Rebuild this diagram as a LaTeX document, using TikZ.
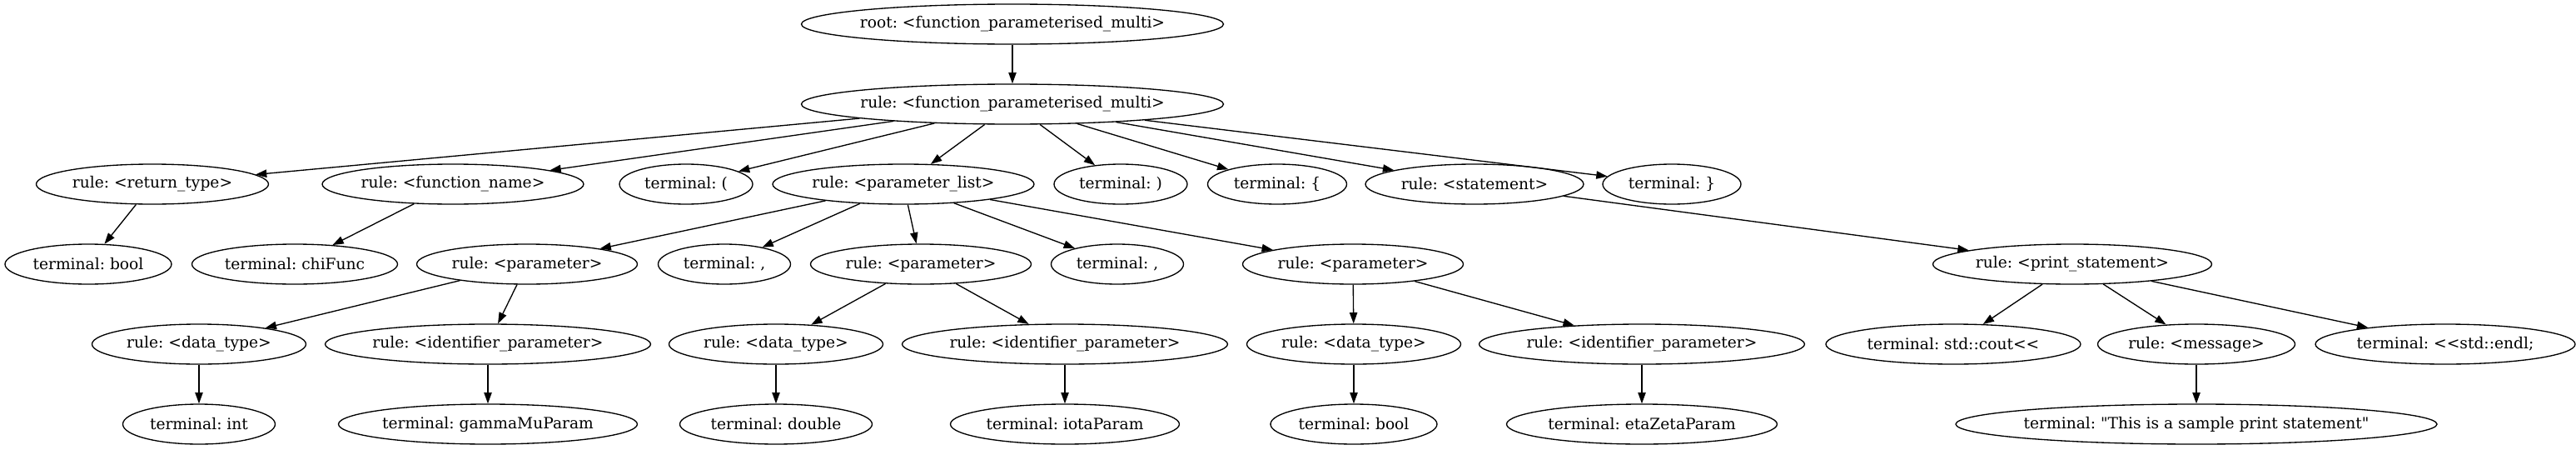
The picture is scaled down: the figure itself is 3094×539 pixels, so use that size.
\documentclass[tikz,border=0pt]{standalone}
\usepackage{fontspec}
\setmainfont{DejaVu Serif}[Ligatures=TeXOff]
\usepackage{tikz}
\usetikzlibrary{shapes.geometric,arrows.meta}
\newcommand{\lb}[1]{\makebox[0pt]{#1}}
\frenchspacing

\begin{document}
\begin{tikzpicture}[x=0.75pt,y=-0.75pt,
    tok/.style={ellipse,draw,line width=1pt,inner sep=0pt,
                minimum height=36pt,minimum width=#1*0.75pt,font=\fontsize{14pt}{16pt}\selectfont},
    edge/.style={line width=1pt,-{Triangle[length=10pt,width=7pt]}}]
                \useasboundingbox (0,0) rectangle (3094,539);
                \def\ya{29}
                \def\yb{125}
                \def\yc{221}
                \def\yd{317}
                \def\ye{413}
                \def\yf{509}
                \node[tok=507] (root) at (1216,\ya) {\lb{root: <function\_parameterised\_multi>}};
                \node[tok=507] (fpm) at (1216,\yb) {\lb{rule: <function\_parameterised\_multi>}};
                \node[tok=279] (rettype) at (183,\yc) {\lb{rule: <return\_type>}};
                \node[tok=314] (fname) at (544,\yc) {\lb{rule: <function\_name>}};
                \node[tok=160] (lpar) at (824,\yc) {\lb{terminal: (}};
                \node[tok=314] (plist) at (1085,\yc) {\lb{rule: <parameter\_list>}};
                \node[tok=160] (rpar) at (1346,\yc) {\lb{terminal: )}};
                \node[tok=167] (lbrace) at (1534,\yc) {\lb{terminal: \{}};
                \node[tok=262] (stmt) at (1771,\yc) {\lb{rule: <statement>}};
                \node[tok=166] (rbrace) at (2008,\yc) {\lb{terminal: \}}};
                \node[tok=200] (tbool) at (106,\yd) {\lb{terminal: bool}};
                \node[tok=247] (tchi) at (354,\yd) {\lb{terminal: chiFunc}};
                \node[tok=265] (par1) at (633,\yd) {\lb{rule: <parameter>}};
                \node[tok=159] (comma1) at (870,\yd) {\lb{terminal: ,}};
                \node[tok=265] (par2) at (1106,\yd) {\lb{rule: <parameter>}};
                \node[tok=159] (comma2) at (1342,\yd) {\lb{terminal: ,}};
                \node[tok=265] (par3) at (1625,\yd) {\lb{rule: <parameter>}};
                \node[tok=335] (pstmt) at (2489,\yd) {\lb{rule: <print\_statement>}};
                \node[tok=257] (dtype1) at (239,\ye) {\lb{rule: <data\_type>}};
                \node[tok=391] (ident1) at (586,\ye) {\lb{rule: <identifier\_parameter>}};
                \node[tok=257] (dtype2) at (932,\ye) {\lb{rule: <data\_type>}};
                \node[tok=391] (ident2) at (1279,\ye) {\lb{rule: <identifier\_parameter>}};
                \node[tok=257] (dtype3) at (1626,\ye) {\lb{rule: <data\_type>}};
                \node[tok=391] (ident3) at (1972,\ye) {\lb{rule: <identifier\_parameter>}};
                \node[tok=306] (cout) at (2346,\ye) {\lb{terminal: std::cout<<}};
                \node[tok=237] (msg) at (2638,\ye) {\lb{rule: <message>}};
                \node[tok=312] (endl) at (2937,\ye) {\lb{terminal: <<std::endl;}};
                \node[tok=183] (tint) at (239,\yf) {\lb{terminal: int}};
                \node[tok=359] (tgamma) at (586,\yf) {\lb{terminal: gammaMuParam}};
                \node[tok=231] (tdouble) at (932,\yf) {\lb{terminal: double}};
                \node[tok=275] (tiota) at (1279,\yf) {\lb{terminal: iotaParam}};
                \node[tok=200] (tbool2) at (1626,\yf) {\lb{terminal: bool}};
                \node[tok=325] (teta) at (1972,\yf) {\lb{terminal: etaZetaParam}};
                \node[tok=578] (tprint) at (2638,\yf) {\lb{terminal: "This is a sample print statement"}};
                \foreach \a/\b in {root/fpm,fpm/rettype,fpm/fname,fpm/lpar,fpm/plist,fpm/rpar,fpm/lbrace,
                        fpm/stmt,fpm/rbrace,rettype/tbool,fname/tchi,plist/par1,plist/comma1,plist/par2,
                        plist/comma2,plist/par3,stmt/pstmt,par1/dtype1,par1/ident1,par2/dtype2,par2/ident2,
                        par3/dtype3,par3/ident3,pstmt/cout,pstmt/msg,pstmt/endl,dtype1/tint,ident1/tgamma,
                        dtype2/tdouble,ident2/tiota,dtype3/tbool2,ident3/teta,msg/tprint}
                    \draw[edge] (\a) -- (\b);
            \end{tikzpicture}
\end{document}
